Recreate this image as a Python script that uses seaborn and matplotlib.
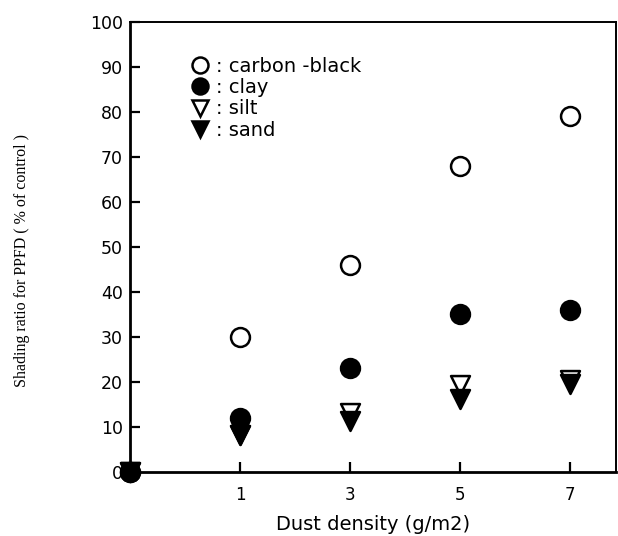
import matplotlib
matplotlib.use("Agg")
import matplotlib.pyplot as plt
from matplotlib.lines import Line2D
import seaborn as sns
import pandas as pd

# ---- data ----
dust_density = ["0", "1", "3", "5", "7"]
carbon_black = [0, 30, 46, 68, 79]
clay = [0, 12, 23, 35, 36]
silt = [0, 8.3, 13, 19.3, 20.4]
sand = [0, 8.3, 11.3, 16.3, 19.6]
series_names = ["carbon -black", "clay", "silt", "sand"]
y_ticks = [0, 10, 20, 30, 40, 50, 60, 70, 80, 90, 100]
x_tick_labels = ["1", "3", "5", "7"]

sns.set_style("ticks")
plt.rcParams["font.family"] = ["DejaVu Sans"]
plt.rcParams["text.color"] = "black"
plt.rcParams["axes.labelcolor"] = "black"

fig = plt.figure(figsize=(6.18, 5.36), dpi=100)
ax = fig.add_axes([0.2104, 0.1194, 0.787, 0.8396])

styles = {
    "carbon -black": dict(marker="o", facecolor="white", edgecolor="black", s=185),
    "clay": dict(marker="o", facecolor="black", edgecolor="black", s=185),
    "silt": dict(marker="v", facecolor="white", edgecolor="black", s=185),
    "sand": dict(marker="v", facecolor="black", edgecolor="black", s=185),
}
values = {"carbon -black": carbon_black, "clay": clay, "silt": silt, "sand": sand}

for name in series_names:
    df = pd.DataFrame({"x": dust_density, "y": values[name]})
    st = styles[name]
    sns.scatterplot(data=df, x="x", y="y", ax=ax, marker=st["marker"], s=st["s"],
                    facecolor=st["facecolor"], edgecolor=st["edgecolor"],
                    linewidth=1.8, clip_on=False, zorder=3, legend=False)

ax.set_xlim(0, 4.42)
ax.set_ylim(0, 100)
ax.set_yticks(y_ticks)
ax.set_yticklabels([str(v) for v in y_ticks], fontsize=12.5)
ax.set_xticks([1, 2, 3, 4])
ax.set_xticklabels(x_tick_labels, fontsize=12)
ax.tick_params(axis="both", direction="in", length=7, width=1.6, colors="black")
ax.tick_params(axis="y", pad=5)
ax.tick_params(axis="x", pad=10)

for side in ["left", "bottom"]:
    ax.spines[side].set_linewidth(2.0)
    ax.spines[side].set_color("black")
for side in ["top", "right"]:
    ax.spines[side].set_linewidth(1.4)
    ax.spines[side].set_visible(True)
    ax.spines[side].set_color("black")

ax.set_xlabel("Dust density (g/m2)", fontsize=14, labelpad=8)
ax.set_ylabel("Shading ratio for PPFD ( % of control )", fontsize=11.5,
              family=["Liberation Serif"])
ax.yaxis.set_label_coords(-0.205, 0.47)

handles = []
for name in series_names:
    st = styles[name]
    handles.append(Line2D([], [], linestyle="none", marker=st["marker"], markersize=11.5,
                          markerfacecolor=st["facecolor"], markeredgecolor=st["edgecolor"],
                          markeredgewidth=1.8))
ax.legend(handles, [": " + n for n in series_names], loc="upper left",
          bbox_to_anchor=(0.105, 0.94), frameon=False, fontsize=14,
          handletextpad=0.3, labelspacing=0.12, borderaxespad=0, handlelength=1.1,
          labelcolor="black")

fig.savefig("out.png", dpi=100)
